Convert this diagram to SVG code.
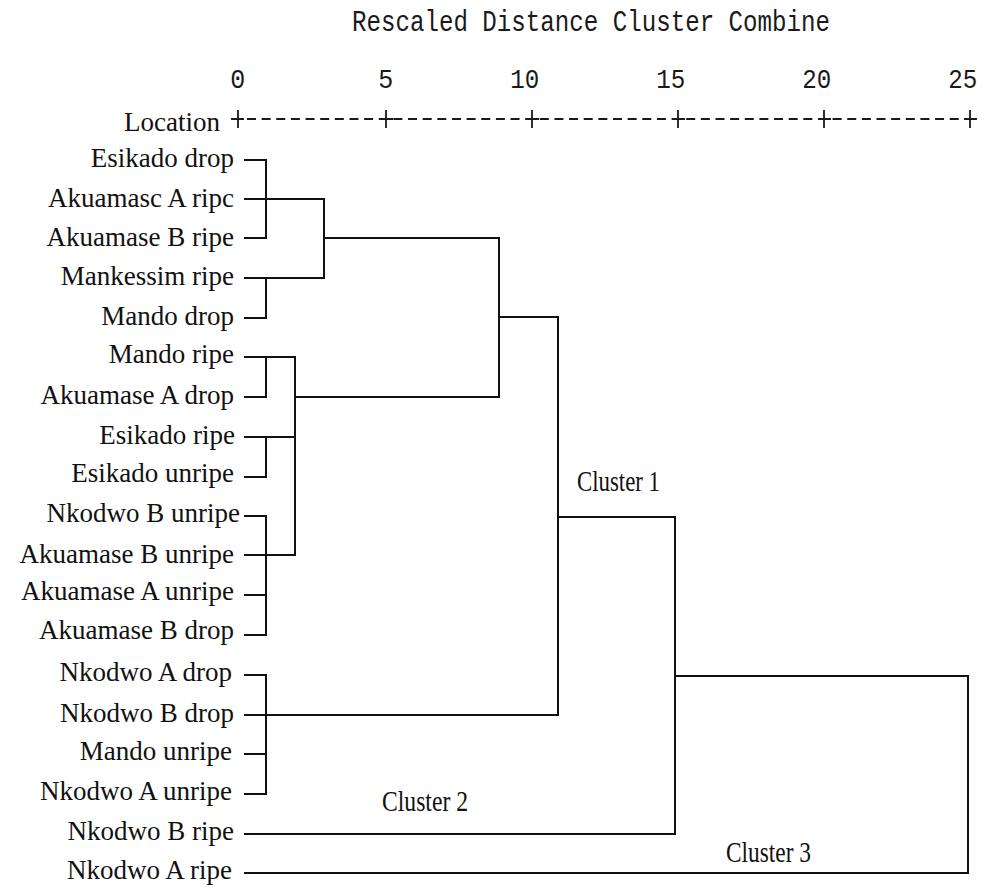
<svg xmlns="http://www.w3.org/2000/svg" width="985" height="891" viewBox="0 0 985 891">
<style>
.mono{font-family:"Liberation Mono","Courier New",monospace;fill:#1a1a1a}
.lbl{font-family:"Liberation Serif","Times New Roman",serif;font-size:27px;fill:#111;text-anchor:end}
.cl{font-family:"Liberation Serif","Times New Roman",serif;font-size:30px;fill:#111}
.ln{stroke:#111;stroke-width:2;fill:none;stroke-linecap:square}
.ax{stroke:#1a1a1a;stroke-width:1.8;fill:none}
</style>
<rect width="985" height="891" fill="#fff"/>
<g id="title">
<text class="mono" x="352" y="31" font-size="30" textLength="478" lengthAdjust="spacingAndGlyphs">Rescaled Distance Cluster Combine</text>
</g>
<g id="axis">
<text class="mono" font-size="28" text-anchor="end" y="88" x="245.3" textLength="15" lengthAdjust="spacingAndGlyphs">0</text>
<text class="mono" font-size="28" text-anchor="end" y="88" x="393.3" textLength="15" lengthAdjust="spacingAndGlyphs">5</text>
<text class="mono" font-size="28" text-anchor="end" y="88" x="539.3" textLength="29" lengthAdjust="spacingAndGlyphs">10</text>
<text class="mono" font-size="28" text-anchor="end" y="88" x="685.3" textLength="29" lengthAdjust="spacingAndGlyphs">15</text>
<text class="mono" font-size="28" text-anchor="end" y="88" x="831.3" textLength="29" lengthAdjust="spacingAndGlyphs">20</text>
<text class="mono" font-size="28" text-anchor="end" y="88" x="977.3" textLength="29" lengthAdjust="spacingAndGlyphs">25</text>
<line class="ax" x1="247" y1="119" x2="961" y2="119" stroke-dasharray="9 5.64"/>
<path class="ax" d="M231,119h13M238,110v18M380,119h13M386,110v18M526,119h13M532,110v18M672,119h13M678,110v18M818,119h13M824,110v18M964,119h13M970,110v18"/>
<text class="lbl" x="220" y="131" font-size="24">Location</text>
</g>
<g id="leaves">
<g id="n0"><text class="lbl" x="234" y="167">Esikado drop</text></g>
<g id="n1"><text class="lbl" x="234" y="207">Akuamasc A ripc</text></g>
<g id="n2"><text class="lbl" x="234" y="246">Akuamase B ripe</text></g>
<g id="n3"><text class="lbl" x="234" y="285">Mankessim ripe</text></g>
<g id="n4"><text class="lbl" x="234" y="325">Mando drop</text></g>
<g id="n5"><text class="lbl" x="234" y="363">Mando ripe</text></g>
<g id="n6"><text class="lbl" x="234" y="404">Akuamase A drop</text></g>
<g id="n7"><text class="lbl" x="235" y="444">Esikado ripe</text></g>
<g id="n8"><text class="lbl" x="234" y="482">Esikado unripe</text></g>
<g id="n9"><text class="lbl" x="240" y="522">Nkodwo B unripe</text></g>
<g id="n10"><text class="lbl" x="234" y="563">Akuamase B unripe</text></g>
<g id="n11"><text class="lbl" x="234" y="600">Akuamase A unripe</text></g>
<g id="n12"><text class="lbl" x="234" y="639">Akuamase B drop</text></g>
<g id="n13"><text class="lbl" x="232" y="681">Nkodwo A drop</text></g>
<g id="n14"><text class="lbl" x="234" y="722">Nkodwo B drop</text></g>
<g id="n15"><text class="lbl" x="232" y="760">Mando unripe</text></g>
<g id="n16"><text class="lbl" x="232" y="800">Nkodwo A unripe</text></g>
<g id="n17"><text class="lbl" x="234" y="840">Nkodwo B ripe</text></g>
<g id="n18"><text class="lbl" x="232" y="879">Nkodwo A ripe</text></g>
</g>
<g id="cluster-labels">
<g id="c1"><text class="cl" x="577" y="491" textLength="83" lengthAdjust="spacingAndGlyphs">Cluster 1</text></g>
<g id="c2"><text class="cl" x="382" y="811" textLength="86" lengthAdjust="spacingAndGlyphs">Cluster 2</text></g>
<g id="c3"><text class="cl" x="726" y="862" textLength="85" lengthAdjust="spacingAndGlyphs">Cluster 3</text></g>
</g>
<g id="connectors">
<path class="ln" d="M245,160H266M245,199H324M245,238H266M266,160V238"/>
<path class="ln" d="M245,278H324M245,318H266M266,278V318M324,199V278M324,238H499"/>
<path class="ln" d="M245,357H295M245,397H266M266,357V397"/>
<path class="ln" d="M245,437H295M245,477H266M266,437V477"/>
<path class="ln" d="M245,516H266M245,555H295M245,595H266M245,635H266M266,516V635"/>
<path class="ln" d="M295,357V555M295,397H499M499,238V397M499,317H558"/>
<path class="ln" d="M245,675H266M245,715H558M245,754H266M245,794H266M266,675V794"/>
<path class="ln" d="M558,317V715M558,517H675M675,517V834M245,834H675M675,676H968M968,676V873M245,873H968"/>
</g>
</svg>
